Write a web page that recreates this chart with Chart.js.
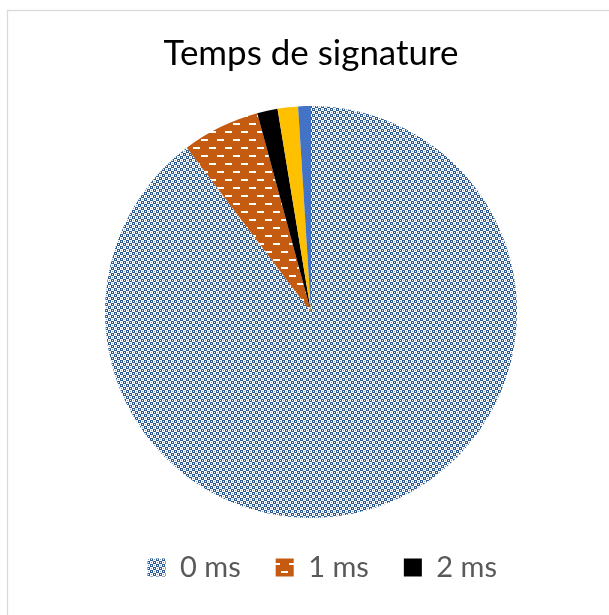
<!DOCTYPE html>
<html>
<head>
<meta charset="utf-8">
<script src="https://cdn.jsdelivr.net/npm/chart.js@4.4.1/dist/chart.umd.min.js"></script>
<style>
html,body{margin:0;padding:0;background:#ffffff;overflow:hidden}
#wrap{position:relative;width:609px;height:615px}
canvas{display:block}
</style>
</head>
<body>
<div id="wrap"><canvas id="c" width="609" height="615"></canvas></div>
<script>
// ---- data ----
const chartTitle = 'Temps de signature';
const categories = ['0 ms', '1 ms', '2 ms', '3 ms', '4 ms'];
const shares = [89.7, 6.1, 1.6, 1.6, 1.0];
const legendShown = 3;

// ---- styles ----
const FAMILY = 'Lato';
const canvas = document.getElementById('c');
const mctx = canvas.getContext('2d');

function makeTile(w, h, draw) {
  const t = document.createElement('canvas');
  t.width = w; t.height = h;
  draw(t.getContext('2d'));
  return mctx.createPattern(t, 'repeat');
}
// blue checker pattern
const bluePattern = makeTile(6, 6, g => {
  g.fillStyle = '#ffffff'; g.fillRect(0, 0, 6, 6);
  g.fillStyle = '#2a5a91';
  g.fillRect(0, 0, 3, 3); g.fillRect(3, 3, 3, 3);
  g.fillStyle = '#ffffff';
  g.fillRect(1, 1, 1, 1); g.fillRect(4, 4, 1, 1);
  g.fillStyle = '#7f9dc2';
  g.fillRect(4, 1, 1, 1); g.fillRect(1, 4, 1, 1);
});
// orange with white horizontal dashes
const orangePattern = makeTile(16, 16, g => {
  g.fillStyle = '#c55a11'; g.fillRect(0, 0, 16, 16);
  g.fillStyle = '#ffffff';
  g.fillRect(1, 3, 7, 2);
  g.fillRect(9, 11, 7, 2);
});
const colors = [bluePattern, orangePattern, '#000000', '#ffc000', '#4472c4'];

// ---- layout helpers (sizes fitted to reference text widths) ----
function fitSize(text, target) {
  mctx.font = '100px ' + FAMILY;
  return 100 * target / mctx.measureText(text).width;
}
const titleSize = fitSize(chartTitle, 295);
const legendSize = Math.round(fitSize(categories[0], 61));

const CX = 311, CY = 312, RAD = 206;
const areaTop = CY - RAD, areaBottom = CY + RAD;
const titleMid = 65.5 - 0.3225 * titleSize;
const titlePadTop = titleMid - 0.6 * titleSize;
const titlePadBottom = areaTop - titlePadTop - 1.2 * titleSize;

const boxW = 18;
const legendMid = 567.5;
const legPad = Math.round(legendMid - areaBottom - legendSize / 2);
mctx.font = legendSize + 'px ' + FAMILY;
let lineW = 0;
for (let i = 0; i < legendShown; i++) {
  lineW += boxW + legendSize / 2 + mctx.measureText(categories[i]).width + legPad;
}
const firstTextX = 180;
const firstBoxX = firstTextX - boxW - legendSize / 2;
const padRight = Math.round(609 - (firstBoxX + lineW));
const padLeft = 2 * CX - (609 - padRight);
const padBottom = 615 - (areaBottom + legendSize + legPad + 10);

const framePlugin = {
  id: 'frame',
  beforeDraw(chart) {
    const c = chart.ctx;
    c.save();
    c.fillStyle = '#ffffff';
    c.fillRect(0, 0, chart.width, chart.height);
    c.strokeStyle = '#d9d9d9';
    c.lineWidth = 1.3;
    c.strokeRect(7.5, 10.5, 800, 800);
    c.restore();
  }
};

new Chart(canvas, {
  type: 'pie',
  data: {
    labels: categories,
    datasets: [{
      data: shares,
      backgroundColor: colors,
      borderWidth: 0
    }]
  },
  options: {
    responsive: false,
    animation: false,
    devicePixelRatio: 1,
    layout: { padding: { top: 0, bottom: padBottom, left: padLeft, right: padRight } },
    plugins: {
      title: {
        display: true,
        text: chartTitle,
        color: '#000000',
        font: { family: FAMILY, size: titleSize, weight: 'normal', lineHeight: 1.2 },
        padding: { top: titlePadTop, bottom: titlePadBottom }
      },
      legend: {
        display: true,
        position: 'bottom',
        align: 'end',
        labels: {
          boxWidth: boxW,
          boxHeight: boxW,
          padding: legPad,
          color: '#595959',
          font: { family: FAMILY, size: legendSize },
          filter: (item) => item.index < legendShown
        }
      },
      tooltip: { enabled: false }
    }
  },
  plugins: [framePlugin]
});
</script>
</body>
</html>
